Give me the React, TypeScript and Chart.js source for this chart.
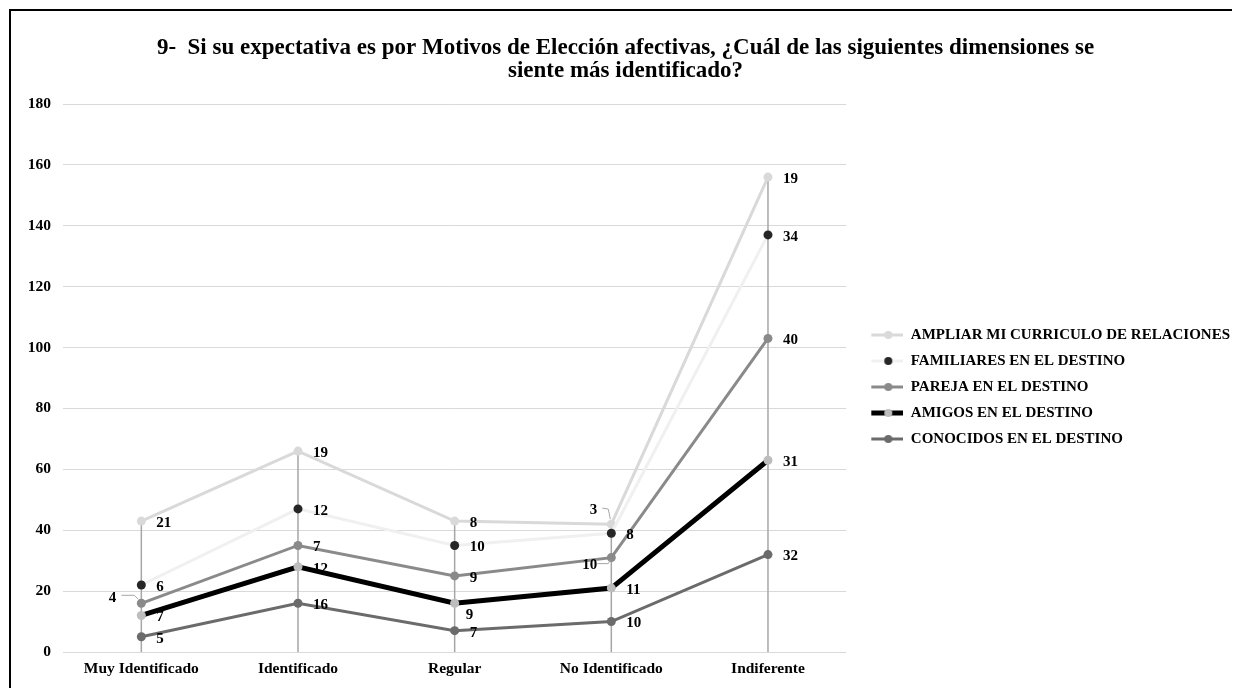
import React, { useEffect, useRef } from "react";
import { Chart, registerables } from "chart.js";

Chart.register(...registerables);

// ---------- DATA ----------
const categories = ["Muy Identificado", "Identificado", "Regular", "No Identificado", "Indiferente"];
const seriesNames = [
  "CONOCIDOS EN EL DESTINO",
  "AMIGOS EN EL DESTINO",
  "PAREJA EN EL DESTINO",
  "FAMILIARES EN EL DESTINO",
  "AMPLIAR MI CURRICULO DE RELACIONES",
];
const conocidos = [5, 16, 7, 10, 32];
const amigos = [7, 12, 9, 11, 31];
const pareja = [4, 7, 9, 10, 40];
const familiares = [6, 12, 10, 8, 34];
const ampliar = [21, 19, 8, 3, 19];
const yMin = 0;
const yMax = 180;
const yStep = 20;
const titleLines = [
  "9-  Si su expectativa es por Motivos de Elección afectivas, ¿Cuál de las siguientes dimensiones se",
  "siente más identificado?",
];

// ---------- STYLE ----------
const FONT = '"Liberation Serif", "Times New Roman", serif';
const styles = [
  { line: "#6b6b6b", point: "#6b6b6b", width: 3 },
  { line: "#000000", point: "#bdbdbd", width: 5 },
  { line: "#8a8a8a", point: "#8a8a8a", width: 3 },
  { line: "#f0f0f0", point: "#262626", width: 3 },
  { line: "#d9d9d9", point: "#d9d9d9", width: 3 },
];

type Place = { dx: number; dy: number; align: CanvasTextAlign; leader?: number[][] };
const defaultPlace: Place = { dx: 15, dy: 2, align: "left" };
const specialPlaces: Record<string, Place> = {
  "2|0": { dx: -25, dy: -5, align: "right", leader: [[-20, -8], [-7, -8], [-3, -4]] },
  "4|3": { dx: -14, dy: -14, align: "right", leader: [[-9, -16], [-3, -15], [-1, -5]] },
  "2|3": { dx: -14, dy: 8, align: "right", leader: [[-14, 6], [-3, 6], [-1, 2]] },
  "1|2": { dx: 11, dy: 12, align: "left" },
};

function legendImage(line: string, point: string, width: number) {
  const c = document.createElement("canvas");
  c.width = 46;
  c.height = 14;
  const g = c.getContext("2d")!;
  g.strokeStyle = line;
  g.lineWidth = width;
  g.beginPath();
  g.moveTo(14, 7);
  g.lineTo(46, 7);
  g.stroke();
  g.fillStyle = point;
  g.beginPath();
  g.arc(31, 7, 4, 0, Math.PI * 2);
  g.fill();
  return c;
}

const dropLinesPlugin = {
  id: "dropLines",
  beforeDatasetsDraw(chart: any) {
    const { ctx } = chart;
    const n = chart.data.datasets.length;
    const top = chart.getDatasetMeta(n - 1).data;
    const y0 = chart.scales.y.getPixelForValue(0);
    ctx.save();
    ctx.strokeStyle = "#a6a6a6";
    ctx.lineWidth = 1.5;
    top.forEach((pt: any) => {
      ctx.beginPath();
      ctx.moveTo(pt.x, pt.y);
      ctx.lineTo(pt.x, y0);
      ctx.stroke();
    });
    ctx.restore();
  },
};

const valueLabelsPlugin = {
  id: "valueLabels",
  afterDatasetsDraw(chart: any) {
    const { ctx } = chart;
    ctx.save();
    ctx.font = `bold 15px ${FONT}`;
    ctx.textBaseline = "middle";
    chart.data.datasets.forEach((ds: any, di: number) => {
      const meta = chart.getDatasetMeta(di);
      meta.data.forEach((pt: any, i: number) => {
        const p = specialPlaces[`${di}|${i}`] || defaultPlace;
        if (p.leader) {
          ctx.strokeStyle = "#a6a6a6";
          ctx.lineWidth = 1;
          ctx.beginPath();
          p.leader.forEach(([lx, ly], k) => {
            if (k === 0) ctx.moveTo(pt.x + lx, pt.y + ly);
            else ctx.lineTo(pt.x + lx, pt.y + ly);
          });
          ctx.stroke();
        }
        ctx.fillStyle = "#000";
        ctx.textAlign = p.align;
        ctx.fillText(String(ds.data[i]), pt.x + p.dx, pt.y + p.dy);
      });
    });
    ctx.restore();
  },
};

export default function App() {
  const ref = useRef<HTMLCanvasElement | null>(null);

  useEffect(() => {
    document.documentElement.style.overflow = "hidden";
    document.body.style.overflow = "hidden";
    const values = [conocidos, amigos, pareja, familiares, ampliar];
    const images = styles.map((s) => legendImage(s.line, s.point, s.width));
    const chart = new Chart(ref.current!, {
      type: "line",
      data: {
        labels: categories,
        datasets: seriesNames.map((name, i) => ({
          label: name,
          data: values[i],
          borderColor: styles[i].line,
          backgroundColor: styles[i].point,
          pointBackgroundColor: styles[i].point,
          pointBorderColor: styles[i].point,
          borderWidth: styles[i].width,
          pointRadius: 4.5,
          pointBorderWidth: 0,
          tension: 0,
          fill: false,
        })),
      },
      options: {
        responsive: false,
        animation: false,
        layout: { padding: { left: 0, right: 0, top: 0, bottom: 0 } },
        plugins: {
          tooltip: { enabled: false },
          title: {
            display: true,
            text: titleLines,
            color: "#000",
            font: { family: FONT, size: 23, weight: "bold", lineHeight: 1.0 },
            padding: { top: 25.5, bottom: 21.5 },
          },
          legend: {
            position: "right",
            fullSize: false,
            reverse: true,
            maxWidth: 420,
            title: { display: true, text: "", font: { size: 10, lineHeight: 1.2 }, padding: { top: 6, bottom: 0 } },
            labels: {
              color: "#000",
              font: { family: FONT, size: 15, weight: "bold" },
              usePointStyle: true,
              pointStyleWidth: 46,
              boxHeight: 15,
              padding: 11,
              generateLabels: (ch: any) => {
                const items = (Chart.defaults.plugins.legend.labels as any).generateLabels(ch);
                return items.map((it: any) => ({ ...it, pointStyle: images[it.datasetIndex] }));
              },
            },
          },
        },
        scales: {
          x: {
            offset: true,
            grid: { display: false, drawTicks: false },
            border: { display: false },
            ticks: { color: "#000", font: { family: FONT, size: 15.5, weight: "bold" }, padding: 8 },
            afterFit: (s: any) => {
              s.paddingLeft = 0;
              s.paddingRight = 0;
              s.height = 37;
            },
          },
          y: {
            stacked: true,
            min: yMin,
            max: yMax,
            ticks: {
              stepSize: yStep,
              color: "#000",
              font: { family: FONT, size: 15.5, weight: "bold" },
              padding: 12,
            },
            grid: { color: "#d9d9d9", lineWidth: 1, drawTicks: false },
            border: { display: false },
            afterFit: (s: any) => {
              s.paddingTop = 0;
              s.paddingBottom = 0;
              s.width = 52;
            },
          },
        },
      },
      plugins: [dropLinesPlugin, valueLabelsPlugin],
    } as any);
    return () => chart.destroy();
  }, []);

  return (
    <div
      style={{
        position: "relative",
        left: 1,
        top: 1,
        width: 1229,
        height: 678,
        borderTop: "2px solid #000",
        borderLeft: "2px solid #000",
        background: "#fff",
      }}
    >
      <canvas ref={ref} width={1229} height={678} style={{ display: "block" }} />
    </div>
  );
}
